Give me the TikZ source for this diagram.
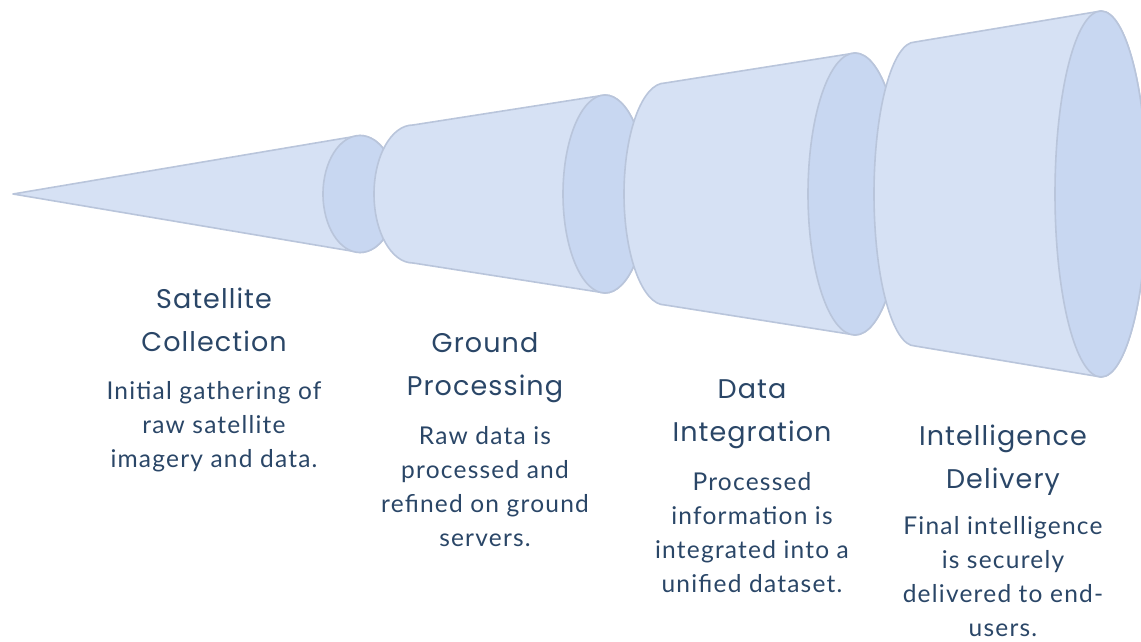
\documentclass[tikz,border=0pt]{standalone}
\usepackage{fontspec}
\setmainfont{Lato}[LetterSpace=5]
\newfontfamily\titlefont{Poppins}[LetterSpace=4]
\usetikzlibrary{positioning}
\definecolor{conefill}{HTML}{D6E1F4}
\definecolor{capfill}{HTML}{C8D7F1}
\definecolor{coneline}{HTML}{B9C5DB}
\definecolor{textnavy}{HTML}{2A4667}
\tikzset{
  cone/.style={fill=conefill, draw=coneline, line width=1.6pt, line join=round},
  endface/.style={fill=capfill, draw=coneline, line width=1.6pt},
  stagetitle/.style={text=textnavy, align=center, inner sep=0pt, anchor=north,
    font=\titlefont\fontsize{27}{43}\selectfont},
  stagetext/.style={text=textnavy, align=center, inner sep=0pt, anchor=north,
    font=\fontsize{24.5}{34}\selectfont}
}

\begin{document}
\begin{tikzpicture}[x=1pt, y=-1pt]
    \useasboundingbox (0,0) rectangle (1141,642);

    % first stage: the pointed cone
    \draw[cone] (13,194) -- (360,135.5) arc[start angle=-90, end angle=90, x radius=37, y radius=58.5] -- cycle;
    \draw[endface] (360,194) ellipse (37 and 58.5);

    % second stage
    \draw[cone] (413,125) arc[start angle=270, end angle=90, x radius=39, y radius=69]
        -- (605,293) arc[start angle=90, end angle=-90, x radius=42, y radius=99] -- cycle;
    \draw[endface] (605,194) ellipse (42 and 99);

    % third stage
    \draw[cone] (665,83) arc[start angle=270, end angle=90, x radius=41, y radius=111]
        -- (855,335) arc[start angle=90, end angle=-90, x radius=47, y radius=141] -- cycle;
    \draw[endface] (855,194) ellipse (47 and 141);

    % fourth stage
    \draw[cone] (915,42) arc[start angle=270, end angle=90, x radius=41, y radius=152]
        -- (1101,377) arc[start angle=90, end angle=-90, x radius=46, y radius=183] -- cycle;
    \draw[endface] (1101,194) ellipse (46 and 183);

    % labels
    \node[stagetitle] (title1) at (214,288) {Satellite\\Collection};
    \node[stagetext] (text1) at (214,381) {Initial gathering of\\raw satellite\\imagery and data.};

    \node[stagetitle] (title2) at (485,332) {Ground\\Processing};
    \node[stagetext] (text2) at (485,426) {Raw data is\\processed and\\refined on ground\\servers.};

    \node[stagetitle] (title3) at (752,379) {Data\\Integration};
    \node[stagetext] (text3) at (752,472) {Processed\\information is\\integrated into a\\unified dataset.};

    \node[stagetitle] (title4) at (1003,425) {Intelligence\\Delivery};
    \node[stagetext] (text4) at (1003,516) {Final intelligence\\is securely\\delivered to end-\\users.};
\end{tikzpicture}
\end{document}
